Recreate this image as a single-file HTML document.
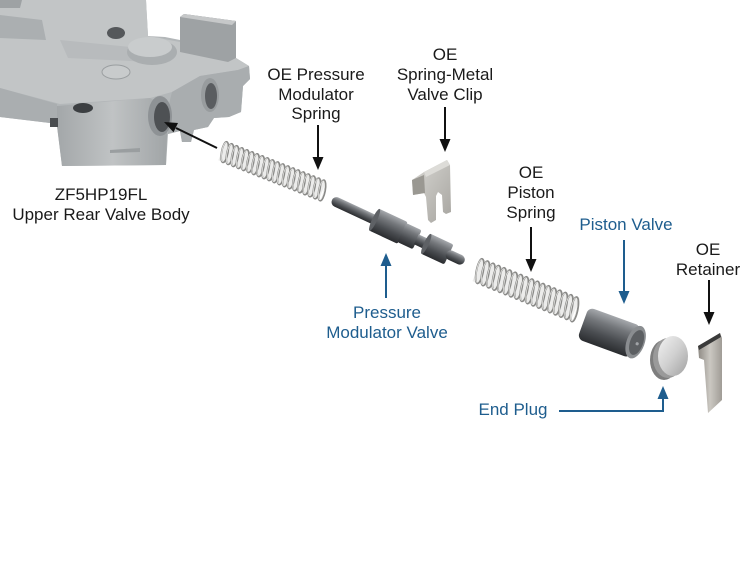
<!DOCTYPE html>
<html><head><meta charset="utf-8"><style>html,body{margin:0;padding:0;background:#fff}svg{display:block}</style></head>
<body>
<svg width="750" height="580" viewBox="0 0 750 580" xmlns="http://www.w3.org/2000/svg" xmlns:xlink="http://www.w3.org/1999/xlink">
<defs>
<linearGradient id="dm" x1="0" y1="0" x2="0" y2="1">
<stop offset="0" stop-color="#a5a8ac"/><stop offset=".3" stop-color="#74777b"/><stop offset=".65" stop-color="#4a4d51"/><stop offset="1" stop-color="#2a2c2f"/></linearGradient>
<linearGradient id="plug" x1="0" y1="0" x2="1" y2="1"><stop offset="0" stop-color="#f2f2f2"/><stop offset=".5" stop-color="#d0d0d0"/><stop offset="1" stop-color="#a0a0a0"/></linearGradient>
<linearGradient id="ret" x1="0" y1="0" x2="1" y2="0"><stop offset="0" stop-color="#8e8a84"/><stop offset=".5" stop-color="#cbc8c2"/><stop offset="1" stop-color="#a09c96"/></linearGradient>
<linearGradient id="clipg" x1="0" y1="0" x2="1" y2="1"><stop offset="0" stop-color="#d8d7d3"/><stop offset="1" stop-color="#a7a5a0"/></linearGradient>
<linearGradient id="front" x1="0" y1="0" x2="1" y2="0"><stop offset="0" stop-color="#a3a7a9"/><stop offset=".5" stop-color="#c0c3c4"/><stop offset="1" stop-color="#a0a4a6"/></linearGradient>
<g id="c1"><ellipse cx="0" cy="0" rx="3.2" ry="10.5" transform="rotate(-11)" fill="none" stroke="#8a8a88" stroke-width="1.7"/><ellipse cx="-0.6" cy="0" rx="2.5" ry="9.5" transform="rotate(-11)" fill="none" stroke="#ececea" stroke-width="0.7"/></g>
<g id="c2"><ellipse cx="0" cy="0" rx="3.4" ry="12.5" transform="rotate(-11)" fill="none" stroke="#8a8a88" stroke-width="1.8"/><ellipse cx="-0.6" cy="0" rx="2.7" ry="11.5" transform="rotate(-11)" fill="none" stroke="#ececea" stroke-width="0.7"/></g>
</defs>

<!-- Valve body -->
<path d="M0,0 L146,0 L148,36 L165,37 L180,40 L180,17 L184,14 L236,21 L236,58 L249,66 L250,79 L243,86 L241,112 L229,117 L214,118 L208,127 L194,130 L191,142 L182,142 L180,131 L168,134 L166,165 L62,166 L57,126 L50,123 L0,117 Z" fill="#b3b7b9"/>
<path d="M0,0 L146,0 L148,36 L180,42 L236,58 L249,66 L238,70 L200,76 L172,92 L150,98 L60,104 L0,88 Z" fill="#c2c5c6"/>
<path d="M0,15 L42,20 L46,40 L0,38 Z" fill="#abafb1"/>
<path d="M0,0 L22,0 L20,8 L0,8 Z" fill="#9ea2a4"/>
<path d="M60,40 L140,48 L150,62 L68,58 Z" fill="#b8bbbd"/>
<path d="M57,106 L150,98 L168,108 L166,165 L62,166 L57,126 Z" fill="url(#front)"/>
<path d="M168,108 L172,92 L200,76 L238,70 L249,66 L250,79 L243,86 L241,112 L229,117 L214,118 L208,127 L194,130 L191,142 L182,142 L180,131 L168,134 Z" fill="#a9adaf"/>
<path d="M0,88 L57,104 L57,126 L50,123 L0,117 Z" fill="#aaaeb0"/>
<path d="M180,17 L184,14 L236,21 L236,58 L228,62 L180,52 Z" fill="#9ea2a4"/>
<path d="M180,17 L184,14 L236,21 L232,25 Z" fill="#c6c8c9"/>
<ellipse cx="152" cy="52" rx="25" ry="13" fill="#aaaeb0"/>
<ellipse cx="150" cy="47" rx="22" ry="10" fill="#c9cccd"/>
<ellipse cx="116" cy="72" rx="14" ry="7" fill="#c8cbcc" stroke="#9a9ea0" stroke-width="1"/>
<ellipse cx="116" cy="33" rx="9" ry="6" fill="#55585b"/>
<ellipse cx="83" cy="108" rx="10" ry="5" fill="#3c3f42"/>
<ellipse cx="160" cy="116" rx="12" ry="20" fill="#8e9295"/>
<ellipse cx="162" cy="117" rx="8" ry="15" fill="#4e5154"/>
<ellipse cx="210" cy="95" rx="9" ry="17" fill="#989c9e"/>
<ellipse cx="211" cy="96" rx="6" ry="13" fill="#5a5d60"/>
<rect x="50" y="118" width="8" height="9" fill="#4a4d50"/>
<path d="M110,150 L140,148 L140,152 L110,153 Z" fill="#9a9ea0"/>

<!-- arrow into body -->
<line x1="217" y1="148" x2="176" y2="128" stroke="#111" stroke-width="2"/>
<polygon points="164,122 178,123 173.5,132.2" fill="#111"/>

<!-- Spring 1 -->
<g transform="translate(222,151) rotate(21.5)">
<rect x="0" y="-10" width="108" height="20" fill="#cfcfcd" opacity="0.4"/>
<use xlink:href="#c1" x="3"/><use xlink:href="#c1" x="8.5"/><use xlink:href="#c1" x="14"/><use xlink:href="#c1" x="19.5"/><use xlink:href="#c1" x="25"/><use xlink:href="#c1" x="30.5"/><use xlink:href="#c1" x="36"/><use xlink:href="#c1" x="41.5"/><use xlink:href="#c1" x="47"/><use xlink:href="#c1" x="52.5"/><use xlink:href="#c1" x="58"/><use xlink:href="#c1" x="63.5"/><use xlink:href="#c1" x="69"/><use xlink:href="#c1" x="74.5"/><use xlink:href="#c1" x="80"/><use xlink:href="#c1" x="85.5"/><use xlink:href="#c1" x="91"/><use xlink:href="#c1" x="96.5"/><use xlink:href="#c1" x="102"/><use xlink:href="#c1" x="107.5"/>
</g>

<!-- Pressure modulator valve -->
<g transform="translate(332,200) rotate(25)">
<rect x="0" y="-5" width="50" height="10" rx="5" fill="url(#dm)"/>
<rect x="46" y="-12" width="32" height="24" rx="2" fill="url(#dm)"/>
<ellipse cx="47" cy="0" rx="2.5" ry="12" fill="#5e6165"/>
<rect x="77" y="-10.5" width="17" height="21" rx="2" fill="url(#dm)"/>
<rect x="93" y="-5.5" width="12" height="11" fill="url(#dm)"/>
<rect x="103" y="-11" width="26" height="22" rx="2" fill="url(#dm)"/>
<ellipse cx="104" cy="0" rx="2.5" ry="11" fill="#5e6165"/>
<rect x="126" y="-5" width="20" height="10" rx="5" fill="url(#dm)"/>
</g>

<!-- Clip -->
<polygon points="412,180 424,172 447,160 450,165 451,212 446,214 443,212 442,195 438,192 436,196 436,220 431,223 428,220 426,197 424,193 413,195" fill="url(#clipg)"/>
<polygon points="412,180 424,175 425,193 413,195" fill="#9a9892"/>
<polygon points="424,172 447,160 450,165 426,177" fill="#dddcd8"/>

<!-- Spring 2 -->
<g transform="translate(477,270) rotate(22)">
<rect x="0" y="-12" width="106" height="24" fill="#cfcfcd" opacity="0.4"/>
<use xlink:href="#c2" x="3"/><use xlink:href="#c2" x="9"/><use xlink:href="#c2" x="15"/><use xlink:href="#c2" x="21"/><use xlink:href="#c2" x="27"/><use xlink:href="#c2" x="33"/><use xlink:href="#c2" x="39"/><use xlink:href="#c2" x="45"/><use xlink:href="#c2" x="51"/><use xlink:href="#c2" x="57"/><use xlink:href="#c2" x="63"/><use xlink:href="#c2" x="69"/><use xlink:href="#c2" x="75"/><use xlink:href="#c2" x="81"/><use xlink:href="#c2" x="87"/><use xlink:href="#c2" x="93"/><use xlink:href="#c2" x="99"/><use xlink:href="#c2" x="105"/>
</g>

<!-- Piston valve -->
<g transform="translate(583,323) rotate(20)">
<rect x="0" y="-17" width="56" height="34" rx="6" fill="url(#dm)"/>
<ellipse cx="56" cy="0" rx="9" ry="17" fill="#8a8d90"/>
<ellipse cx="57" cy="0" rx="6.5" ry="13" fill="#5c5f62"/>
<circle cx="58" cy="1" r="1.6" fill="#a0a3a6"/>
</g>

<!-- End plug -->
<ellipse cx="664" cy="360" rx="14" ry="20" fill="#7e7e7e"/>
<ellipse cx="668" cy="358" rx="15" ry="20" fill="#9a9a9a"/>
<ellipse cx="673" cy="356" rx="15" ry="20" fill="url(#plug)"/>

<!-- Retainer -->
<polygon points="698,346 720,333 722,338 722,400 708,413 704,360 699,358" fill="url(#ret)"/>
<polygon points="698,346 720,333 721,337 699,350" fill="#3a3a3a"/>

<!-- Black arrows -->
<g fill="#111" stroke="none">
<rect x="317" y="125" width="2" height="34"/><polygon points="312.5,157 323.5,157 318,170"/>
<rect x="444" y="107" width="2" height="34"/><polygon points="439.5,139 450.5,139 445,152"/>
<rect x="530" y="227" width="2" height="34"/><polygon points="525.5,259 536.5,259 531,272"/>
<rect x="708" y="280" width="2" height="34"/><polygon points="703.5,312 714.5,312 709,325"/>
</g>
<!-- Blue arrows -->
<g fill="#1e5d8e" stroke="none">
<rect x="623" y="240" width="2" height="52"/><polygon points="618.5,291 629.5,291 624,304"/>
<rect x="385" y="264" width="2" height="34"/><polygon points="380.5,266 391.5,266 386,253"/>
<rect x="559" y="410" width="105" height="2"/><rect x="662" y="398" width="2" height="14"/><polygon points="657.5,399 668.5,399 663,386"/>
</g>

<!-- Labels -->
<g font-family="'Liberation Sans', Arial, sans-serif" font-size="17" text-anchor="middle" fill="#1a1a1a">
<text x="316" y="80">OE Pressure</text>
<text x="316" y="100">Modulator</text>
<text x="316" y="119">Spring</text>
<text x="445" y="60">OE</text>
<text x="445" y="80">Spring-Metal</text>
<text x="445" y="100">Valve Clip</text>
<text x="531" y="178">OE</text>
<text x="531" y="198">Piston</text>
<text x="531" y="218">Spring</text>
<text x="708" y="255">OE</text>
<text x="708" y="275">Retainer</text>
<text x="101" y="200">ZF5HP19FL</text>
<text x="101" y="220">Upper Rear Valve Body</text>
</g>
<g font-family="'Liberation Sans', Arial, sans-serif" font-size="17" text-anchor="middle" fill="#1e5d8e">
<text x="626" y="230">Piston Valve</text>
<text x="387" y="318">Pressure</text>
<text x="387" y="338">Modulator Valve</text>
<text x="513" y="415">End Plug</text>
</g>
</svg>
</body></html>
